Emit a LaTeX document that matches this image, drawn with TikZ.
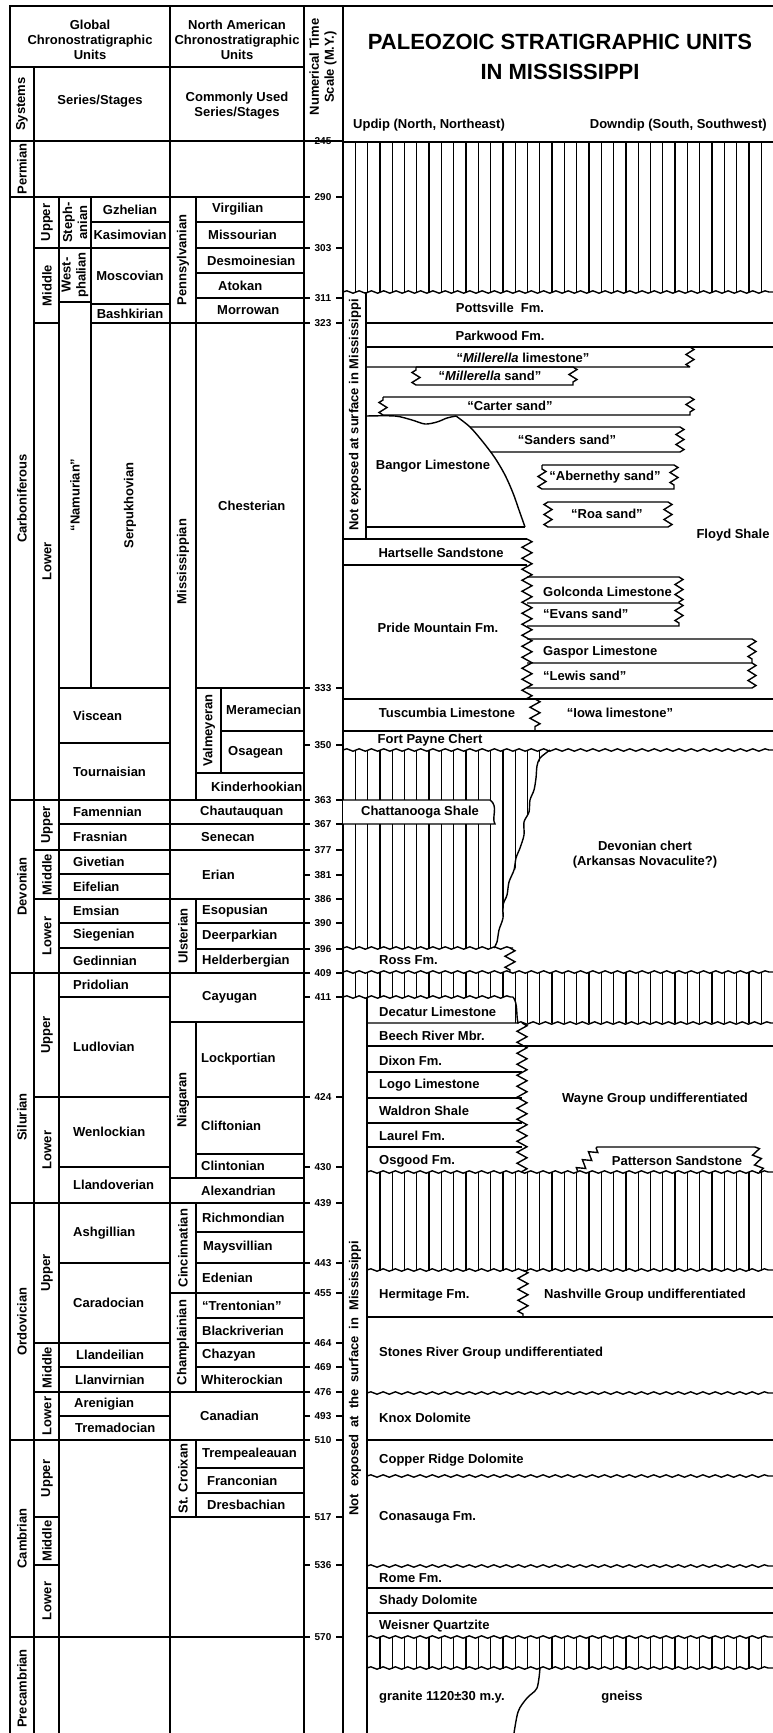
\documentclass[tikz,border=0pt]{standalone}
\usepackage{fontspec}
\setmainfont{Liberation Sans}
\usetikzlibrary{decorations.pathmorphing}
\newcommand\lbfont{\fontsize{13}{15}\selectfont\bfseries}
\newcommand\numfont{\fontsize{10}{10}\selectfont\bfseries}
\newcommand\ttlfont{\fontsize{22}{30}\selectfont\bfseries}
\tikzset{
    tabline/.style={line width=1.6pt},
    hline/.style={line width=1.4pt},
    hatchln/.style={line width=1.3pt},
    wavy/.style={line width=1.4pt,decorate,decoration={snake,segment length=12.3pt,amplitude=1.2pt}},
    zz/.style={decoration={zigzag,segment length=10pt,amplitude=4pt}},
    zigline/.style={line width=1.4pt,decorate,decoration={zigzag,segment length=11pt,amplitude=5pt}},
    lbl/.style={font=\lbfont,inner sep=0pt,align=center},
    lc/.style={lbl},
    lw/.style={lbl,anchor=west},
    lr/.style={lbl,rotate=90},
    num/.style={font=\numfont,inner sep=0pt}
}

\begin{document}
\begin{tikzpicture}[x=1pt,y=-1pt]
  \useasboundingbox (0,0) rectangle (773,1733);
  % header of the left table
  \draw[tabline] (10,6) rectangle (170,67);
  \node[lbl] (glob) at (90,40) {Global\\Chronostratigraphic\\Units};
  \draw[tabline] (170,6) rectangle (304,67);
  \node[lbl] (namer) at (237,40) {North American\\Chronostratigraphic\\Units};
  \draw[tabline] (304,6) rectangle (343,141);
  \node[lr] (numts) at (323,67) {Numerical Time\\Scale (M.Y.)};
  \draw[tabline] (10,67) rectangle (34,141);
  \node[lr] (sys) at (22,104) {Systems};
  \draw[tabline] (34,67) rectangle (170,141);
  \node[lbl] (serst) at (100,101) {Series/Stages};
  \draw[tabline] (170,67) rectangle (304,141);
  \node[lbl] (cuss) at (237,106) {Commonly Used\\Series/Stages};
  % Permian
  \draw[tabline] (10,141) rectangle (34,197);
  \node[lr] (perm) at (22,169) {Permian};
  \draw[tabline] (34,141) rectangle (170,197);
  \draw[tabline] (170,141) rectangle (304,197);
  % units of the left table
  \foreach \nm/\xa/\ya/\xb/\yb/\tx/\st/\txt in {
    carb/10/197/34/800/22/lr/Carboniferous,
    cup/34/197/59/248/47/lr/Upper,
    cmid/34/248/59/323/47/lr/Middle,
    clow/34/323/59/800/47/lr/Lower,
    steph/59/197/91/248/75/lr/{Steph-\\anian},
    westph/59/248/91/302/75/lr/{West-\\phalian},
    namur/59/302/91/688/75/lr/``Namurian'',
    gzhel/91/197/170/222/130/lc/Gzhelian,
    kasim/91/222/170/248/130/lc/Kasimovian,
    mosc/91/248/170/304/130/lc/Moscovian,
    bashk/91/304/170/323/130/lc/Bashkirian,
    serpuk/91/323/170/688/130/lr/Serpukhovian,
    visc/59/688/170/743/73/lw/Viscean,
    tourn/59/743/170/800/73/lw/Tournaisian,
    penn/170/197/196/323/183/lr/Pennsylvanian,
    miss/170/323/196/800/183/lr/Mississippian,
    virg/196/197/304/222/212/lw/Virgilian,
    misso/196/222/304/248/208/lw/Missourian,
    desm/196/248/304/273/207/lw/Desmoinesian,
    atok/196/273/304/298/218/lw/Atokan,
    morr/196/298/304/323/217/lw/Morrowan,
    chest/196/323/304/688/218/lw/Chesterian,
    valm/196/688/221/773/209/lr/Valmeyeran,
    meram/221/688/304/731/226/lw/Meramecian,
    osag/221/731/304/773/228/lw/Osagean,
    kinder/196/773/304/800/211/lw/Kinderhookian,
    dev/10/800/34/973/22/lr/Devonian,
    dup/34/800/59/850/47/lr/Upper,
    dmid/34/850/59/899/47/lr/Middle,
    dlow/34/899/59/973/47/lr/Lower,
    famen/59/800/170/824/73/lw/Famennian,
    frasn/59/824/170/850/73/lw/Frasnian,
    givet/59/850/170/874/73/lw/Givetian,
    eifel/59/874/170/899/73/lw/Eifelian,
    emsian/59/899/170/923/73/lw/Emsian,
    siegen/59/923/170/948/73/lw/Siegenian,
    gedinn/59/948/170/973/73/lw/Gedinnian,
    chaut/170/800/304/824/200/lw/Chautauquan,
    senec/170/824/304/850/201/lw/Senecan,
    erian/170/850/304/899/202/lw/Erian,
    ulster/170/899/196/973/183/lr/Ulsterian,
    esop/196/899/304/923/202/lw/Esopusian,
    deerp/196/923/304/949/202/lw/Deerparkian,
    helder/196/949/304/973/202/lw/Helderbergian,
    sup/34/973/59/1097/47/lr/Upper,
    slow/34/1097/59/1203/47/lr/Lower,
    prid/59/973/170/997/73/lw/Pridolian,
    ludl/59/997/170/1097/73/lw/Ludlovian,
    wenl/59/1097/170/1167/73/lw/Wenlockian,
    llando/59/1167/170/1203/73/lw/Llandoverian,
    cayug/170/973/304/1022/202/lw/Cayugan,
    niag/170/1022/196/1178/183/lr/Niagaran,
    lockp/196/1022/304/1097/201/lw/Lockportian,
    clift/196/1097/304/1154/201/lw/Cliftonian,
    clint/196/1154/304/1178/201/lw/Clintonian,
    alex/170/1178/304/1203/201/lw/Alexandrian,
    ord/10/1203/34/1440/22/lr/Ordovician,
    oup/34/1203/59/1343/47/lr/Upper,
    omid/34/1343/59/1392/47/lr/Middle,
    olow/34/1392/59/1440/47/lr/Lower,
    ashg/59/1203/170/1263/73/lw/Ashgillian,
    carad/59/1263/170/1343/73/lw/Caradocian,
    llandei/59/1343/170/1367/76/lw/Llandeilian,
    llanv/59/1367/170/1392/75/lw/Llanvirnian,
    areni/59/1392/170/1416/74/lw/Arenigian,
    trema/59/1416/170/1440/75/lw/Tremadocian,
    cinc/170/1203/196/1293/183/lr/Cincinnatian,
    richm/196/1203/304/1232/202/lw/Richmondian,
    maysv/196/1232/304/1263/203/lw/Maysvillian,
    eden/196/1263/304/1293/202/lw/Edenian,
    champ/170/1293/196/1392/183/lr/Champlainian,
    trent/196/1293/304/1318/202/lw/``Trentonian'',
    blackr/196/1318/304/1343/202/lw/Blackriverian,
    chazy/196/1343/304/1367/202/lw/Chazyan,
    whiter/196/1367/304/1392/201/lw/Whiterockian,
    canad/170/1392/304/1440/200/lw/Canadian,
    camb/10/1440/34/1637/22/lr/Cambrian,
    caup/34/1440/59/1517/47/lr/Upper,
    camid/34/1517/59/1565/47/lr/Middle,
    calow/34/1565/59/1637/47/lr/Lower,
    stcroix/170/1440/196/1517/183/lr/St. Croixan,
    tremp/196/1440/304/1468/202/lw/Trempealeauan,
    franc/196/1468/304/1493/207/lw/Franconian,
    dresb/196/1493/304/1517/207/lw/Dresbachian,
    prec/10/1637/34/1740/22/lr/Precambrian}{
    \draw[tabline] (\xa,\ya) rectangle (\xb,\yb);
    \node[\st] (\nm) at (\tx,{(\ya+\yb)/2}) {\txt};
  }
  \draw[tabline] (10,973) rectangle (34,1203);
  \node[lr] (silur) at (22,1117) {Silurian};
  \draw[tabline] (59,1440) rectangle (170,1637);
  \draw[tabline] (170,1517) rectangle (304,1637);
  \draw[tabline] (34,1637) rectangle (59,1740);
  \draw[tabline] (59,1637) rectangle (170,1740);
  \draw[tabline] (170,1637) rectangle (304,1740);
  \draw[tabline] (304,141) -- (304,1740);
  % numerical time scale
  \foreach \v/\y in {245/141,290/197,303/248,311/298,323/323,333/688,350/745,
      363/800,367/824,377/850,381/875,386/899,390/923,396/949,409/973,411/997,
      424/1097,430/1167,439/1203,443/1263,455/1293,464/1343,469/1367,476/1392,
      493/1416,510/1440,517/1517,536/1565,570/1637}{
    \draw[tabline] (304,\y) -- (310,\y);
    \draw[tabline] (336,\y) -- (343,\y);
    \node[num] (t\v) at (323,\y) {\v};
  }

  % right panel
  \draw[tabline] (343,6) -- (773,6);
  \draw[tabline] (343,6) -- (343,1740);
  \node[font=\ttlfont,inner sep=0pt,align=center] (title) at (560,57) {PALEOZOIC STRATIGRAPHIC UNITS\\IN MISSISSIPPI};
  \node[lw] (updip) at (353,125) {Updip (North, Northeast)};
  \node[lbl,anchor=east] (downdip) at (767,125) {Downdip (South, Southwest)};
  \draw[tabline] (343,142) -- (773,142);
  \begin{scope}
    \clip (343,142) rectangle (773,292);
    \foreach \k in {0,...,35} \draw[hatchln] ({343+12.3*\k},142) -- ++(0,150);
  \end{scope}
  \draw[wavy] (343,292) -- (773,292);
  \draw[tabline] (366,292) -- (366,538);
  \node[lr] (noexp1) at (355,415) {Not exposed at surface in Mississippi};
  % Pennsylvanian and upper Mississippian
  \node[lc] (potts) at (500,308) {Pottsville\ \ Fm.};
  \draw[hline] (366,323) -- (773,323);
  \node[lc] (parkw) at (500,336) {Parkwood Fm.};
  \draw[hline] (366,347) -- (773,347);
  \draw[hline] (690,347) decorate[zz]{-- (690,367)} -- (366,367);
  \node[lc] (millls) at (523,358) {``\textit{Millerella} limestone''};
  \draw[hline] (416,367) -- (573,367) decorate[zz]{-- (573,385)} -- (416,385) decorate[zz]{-- (416,367)};
  \node[lc] (millsd) at (490,376) {``\textit{Millerella} sand''};
  \draw[hline] (383,397) -- (690,397) decorate[zz]{-- (690,415)} -- (383,415) decorate[zz]{-- (383,397)};
  \node[lc] (carter) at (510,406) {``Carter sand''};
  \draw[hline] plot[smooth] coordinates {(366,416) (395,416) (412,420) (425,424) (437,422) (447,418) (456,416)};
  \draw[hline] plot[smooth] coordinates {(456,416) (470,427) (483,442) (495,458) (505,475) (513,493) (519,510) (525,527)};
  \draw[hline] (366,527) -- (525,527);
  \node[lc] (bangor) at (433,466) {Bangor Limestone};
  \draw[hline] (470,427) -- (680,427) decorate[zz]{-- (680,452)} -- (491,452);
  \node[lc] (sanders) at (567,440) {``Sanders sand''};
  \draw[hline] (542,465) -- (674,465) decorate[zz]{-- (674,489)} -- (542,489) decorate[zz]{-- (542,465)};
  \node[lc] (abern) at (605,477) {``Abernethy sand''};
  \draw[hline] (548,502) -- (668,502) decorate[zz]{-- (668,527)} -- (548,527) decorate[zz]{-- (548,502)};
  \node[lc] (roa) at (607,514) {``Roa sand''};
  \node[lc] (floyd) at (733,535) {Floyd Shale};
  \draw[hline] (343,539) -- (527,539);
  \draw[hline] (343,565) -- (527,565);
  \node[lc] (harts) at (441,553) {Hartselle Sandstone};
  \draw[zigline] (527,539) -- (527,699);
  \node[lc] (pride) at (438,628) {Pride Mountain Fm.};
  \draw[hline] (527,577) -- (679,577) decorate[zz]{-- (679,603)} -- (527,603);
  \draw[hline] (679,603) decorate[zz]{-- (679,626)} -- (527,626);
  \node[lw] (golc) at (543,592) {Golconda Limestone};
  \node[lw] (evans) at (543,614) {``Evans sand''};
  \draw[hline] (527,639) -- (752,639) decorate[zz]{-- (752,663)} -- (527,663);
  \draw[hline] (752,663) decorate[zz]{-- (752,688)} -- (527,688);
  \node[lw] (gaspor) at (543,652) {Gaspor Limestone};
  \node[lw] (lewis) at (543,676) {``Lewis sand''};
  \draw[hline] (343,699) -- (773,699);
  \draw[zigline] (535,699) -- (535,731);
  \draw[hline] (343,731) -- (773,731);
  \node[lc] (tusc) at (447,713) {Tuscumbia Limestone};
  \node[lc] (iowa) at (620,713) {``Iowa limestone''};
  \node[lc] (fpayne) at (430,740) {Fort Payne Chert};
  % Devonian
  \begin{scope}
    \clip (343,750) -- (550,750) -- (538,763) -- (535,790) -- (527,817) -- (522,847) -- (512,880)
      -- (503,910) -- (500,933) -- (495,948) -- (343,948) -- cycle;
    \foreach \k in {0,...,17} \draw[hatchln] ({343+12.3*\k},750) -- ++(0,198);
  \end{scope}
  \draw[wavy] (343,750) -- (773,750);
  \draw[hline] plot[smooth] coordinates {(550,750) (540,758) (537,766) (536,778) (534,790) (530,800)
    (529,812) (524,822) (524,835) (520,848) (516,858) (514,870) (509,882) (507,895) (503,905)
    (503,918) (499,930) (497,942) (494,948)};
  \fill[white] (343,800) rectangle (495,824);
  \draw[hline] (343,800) -- (490,800) .. controls (499,806) and (491,818) .. (495,824) -- (343,824);
  \node[lc] (chatt) at (420,812) {Chattanooga Shale};
  \node[lc] (devch) at (645,855) {Devonian chert\\(Arkansas Novaculite?)};
  \draw[wavy] (343,948) -- (513,948);
  \draw[zigline] (510,948) -- (510,972);
  \node[lw] (ross) at (379,960) {Ross Fm.};
  % Silurian
  \begin{scope}
    \clip (343,972) -- (773,972) -- (773,1023) -- (513,1023) -- (513,997) -- (343,997) -- cycle;
    \foreach \k in {0,...,35} \draw[hatchln] ({343+12.3*\k},970) -- ++(0,55);
  \end{scope}
  \draw[wavy] (343,972) -- (773,972);
  \draw[wavy] (343,997) -- (513,997);
  \draw[wavy] (517,1023) -- (773,1023);
  \draw[hline] (513,997) .. controls (518,1003) and (516,1015) .. (518,1023) -- (367,1023);
  \draw[tabline] (367,997) -- (367,1740);
  \node[lr] (noexp2) at (355,1378) {\makebox[275pt][s]{Not exposed at the surface in Mississippi}};
  \foreach \y in {1046,1072,1098,1123,1147} \draw[hline] (367,\y) -- (522,\y);
  \draw[hline] (522,1046) -- (773,1046);
  \draw[zigline] (522,1023) -- (522,1172);
  \node[lw] (decat) at (379,1012) {Decatur Limestone};
  \node[lw] (beech) at (379,1036) {Beech River Mbr.};
  \node[lw] (dixon) at (379,1061) {Dixon Fm.};
  \node[lw] (logo) at (379,1085) {Logo Limestone};
  \node[lw] (waldr) at (379,1111) {Waldron Shale};
  \node[lw] (laurel) at (379,1136) {Laurel Fm.};
  \node[lw] (osgood) at (379,1161) {Osgood Fm.};
  \node[lc] (wayne) at (655,1099) {Wayne Group undifferentiated};
  \draw[hline] (578,1172) decorate[zz]{-- (597,1147)} -- (755,1147) decorate[zz]{-- (760,1172)};
  \node[lc] (patt) at (677,1161) {Patterson Sandstone};
  % Ordovician
  \begin{scope}
    \clip (367,1172) rectangle (773,1270);
    \foreach \k in {0,...,35} \draw[hatchln] ({343+12.3*\k},1170) -- ++(0,102);
  \end{scope}
  \draw[wavy] (367,1172) -- (773,1172);
  \draw[wavy] (367,1270) -- (773,1270);
  \draw[zigline] (523,1270) -- (523,1317);
  \node[lw] (hermit) at (379,1295) {Hermitage Fm.};
  \node[lc] (nashv) at (645,1295) {Nashville Group undifferentiated};
  \draw[tabline] (367,1317) -- (773,1317);
  \node[lw] (stones) at (379,1353) {Stones River Group undifferentiated};
  \draw[wavy] (367,1393) -- (773,1393);
  \node[lw] (knox) at (379,1418) {Knox Dolomite};
  \draw[tabline] (367,1440) -- (773,1440);
  % Cambrian
  \node[lw] (copper) at (379,1460) {Copper Ridge Dolomite};
  \draw[wavy] (367,1476) -- (773,1476);
  \node[lw] (conas) at (379,1517) {Conasauga Fm.};
  \draw[wavy] (367,1566) -- (773,1566);
  \node[lw] (rome) at (379,1578) {Rome Fm.};
  \draw[hline] (367,1588) -- (773,1588);
  \node[lw] (shady) at (379,1601) {Shady Dolomite};
  \draw[hline] (367,1613) -- (773,1613);
  \node[lw] (weisn) at (379,1626) {Weisner Quartzite};
  % Precambrian
  \begin{scope}
    \clip (367,1637) rectangle (773,1668);
    \foreach \k in {0,...,35} \draw[hatchln] ({343+12.3*\k},1635) -- ++(0,35);
  \end{scope}
  \draw[wavy] (367,1637) -- (773,1637);
  \draw[wavy] (367,1668) -- (773,1668);
  \draw[hline] plot[smooth] coordinates {(540,1668) (537,1688) (527,1698) (518,1712) (513,1740)};
  \node[lw] (granite) at (379,1697) {granite 1120±30 m.y.};
  \node[lc] (gneiss) at (622,1697) {gneiss};
\end{tikzpicture}
\end{document}
